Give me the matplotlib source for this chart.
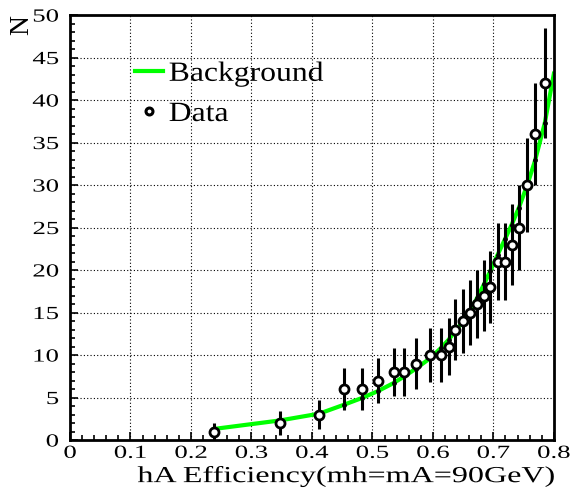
import numpy as np
import matplotlib
matplotlib.use('Agg')
import matplotlib.pyplot as plt
import matplotlib.patheffects as pe
from matplotlib.lines import Line2D
from matplotlib.ticker import MultipleLocator
from matplotlib.transforms import Affine2D

plt.rcParams['font.family'] = ['Liberation Serif', 'DejaVu Serif']

# data points (efficiency, number of events)
eff = [0.238, 0.347, 0.412, 0.453, 0.483, 0.509, 0.535, 0.553, 0.572, 0.595,
       0.613, 0.626, 0.637, 0.649, 0.662, 0.673, 0.685, 0.695, 0.707, 0.719,
       0.730, 0.742, 0.756, 0.769, 0.785]
n_data = [1, 2, 3, 6, 6, 7, 8, 8, 9, 10,
          10, 11, 13, 14, 15, 16, 17, 18, 21, 21,
          23, 25, 30, 36, 42]

# expected background at the same efficiencies, plus the end point
bkg_x = eff + [0.800]
bkg_y = [1.3, 2.3, 3.1, 4.15, 4.95, 5.75, 6.7, 7.5, 8.4, 9.6,
         10.8, 11.8, 12.8, 13.9, 15.2, 16.7, 18.4, 19.9, 21.8, 23.6,
         25.3, 27.3, 30.0, 32.9, 37.3, 43.1]

xtick_labels = ['0', '0.1', '0.2', '0.3', '0.4', '0.5', '0.6', '0.7', '0.8']

err = np.sqrt(n_data)


# the ROOT picture uses a wide Times, so stretch the glyphs sideways
class Stretch(pe.AbstractPathEffect):
    def __init__(self, sx, anchor=0.5):
        super().__init__()
        self.sx = sx
        self.anchor = anchor

    def draw_path(self, renderer, gc, tpath, affine, rgbFace=None):
        xs = tpath.vertices[:, 0]
        if len(xs) == 0:
            return
        a = xs.min() + self.anchor * (xs.max() - xs.min())
        t = Affine2D().translate(-a, 0).scale(self.sx, 1).translate(a, 0)
        renderer.draw_path(gc, tpath, t + affine, rgbFace)


fig = plt.figure(figsize=(5.71, 4.93), dpi=100)
ax = fig.add_axes([0.1226, 0.1075, 0.8474, 0.862])

ax.plot(bkg_x, bkg_y, color='#00ff00', lw=3, zorder=2)
ax.plot(bkg_x[:-1], bkg_y[:-1], 'ko', ms=2.5, zorder=3)
ax.errorbar(eff, n_data, yerr=err, fmt='o', color='black', mfc='white',
            mec='black', ms=6.5, mew=2, elinewidth=2.2, capsize=0, zorder=4)

ax.set_xlim(0, 0.8)
ax.set_ylim(0, 50)
ax.set_xticks(np.arange(0, 0.81, 0.1))
ax.set_xticklabels(xtick_labels)
ax.xaxis.set_minor_locator(MultipleLocator(0.02))
ax.yaxis.set_major_locator(MultipleLocator(5))
ax.yaxis.set_minor_locator(MultipleLocator(1))

ax.tick_params(which='both', direction='in', top=False, right=False,
               labelsize=13.3, width=1.2)
ax.tick_params(which='major', length=6)
ax.tick_params(which='minor', length=3.5)
ax.tick_params(axis='x', pad=3.5)
ax.tick_params(axis='y', pad=8)

ax.grid(True, which='major', color='black', ls=(0, (1, 2)), lw=0.8)
for s in ax.spines.values():
    s.set_linewidth(2)

ax.set_xlabel('hA Efficiency(mh=mA=90GeV)', fontsize=16.5, loc='right')
ax.xaxis.set_label_coords(1.0, -0.061)
ax.xaxis.label.set_path_effects([Stretch(1.4, 1.0)])
ax.set_ylabel('N', fontsize=20, loc='top')
ax.yaxis.set_label_coords(-0.075, 1.0)

handles = [Line2D([], [], color='#00ff00', lw=3),
           Line2D([], [], marker='o', ls='none', mfc='white', mec='black',
                  ms=5, mew=2.2)]
leg = ax.legend(handles, ['Background', 'Data'], loc='upper left',
                bbox_to_anchor=(0.134, 0.891), frameon=False, fontsize=20,
                handlelength=1.0, handletextpad=0.22, labelspacing=0.53,
                borderpad=0, borderaxespad=0)
for t in leg.get_texts():
    t.set_path_effects([Stretch(1.14, 0.0)])

fig.canvas.draw()
for t in ax.get_xticklabels():
    t.set_path_effects([Stretch(1.45, 0.5)])
for t in ax.get_yticklabels():
    t.set_path_effects([Stretch(1.45, 1.0)])

fig.savefig('out.png', dpi=100)
